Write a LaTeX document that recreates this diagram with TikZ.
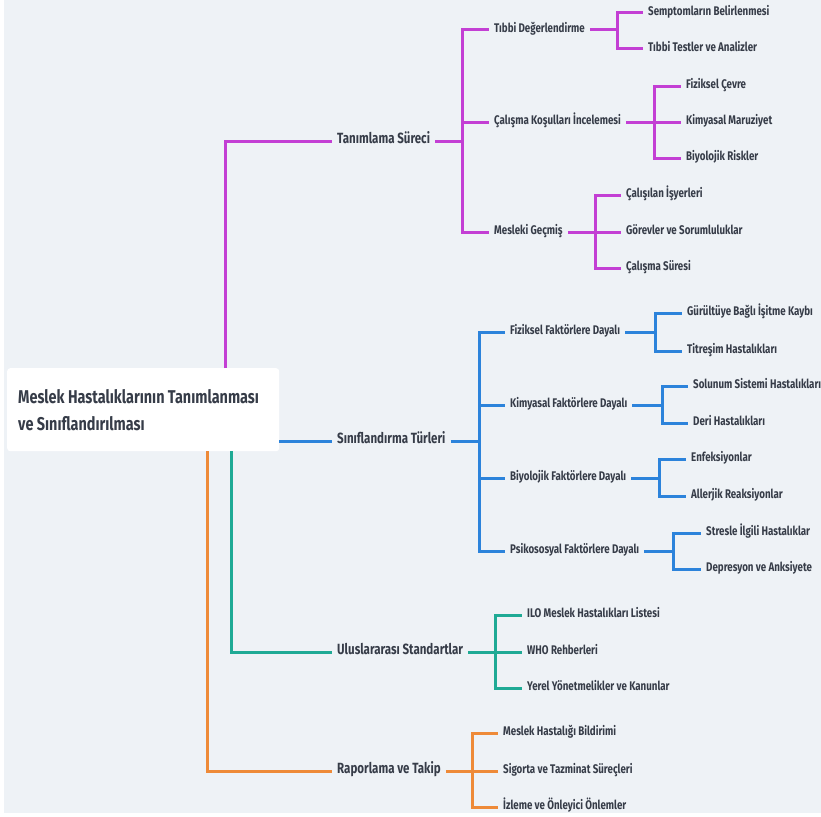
\documentclass[tikz,border=0pt]{standalone}
\usepackage{fontspec}
\setmainfont{Fira Sans}[FakeStretch=0.78]
\definecolor{bgc}{HTML}{EEF2F6}
\definecolor{ink}{HTML}{363C48}
\definecolor{magc}{HTML}{C33FD4}
\definecolor{bluc}{HTML}{2C83DB}
\definecolor{tealc}{HTML}{1FAA95}
\definecolor{orac}{HTML}{EE8A38}
\newcommand\hookup[3]{\draw[#1] (#2) |- ([xshift=-5pt]#3.west);}
\begin{document}
\begin{tikzpicture}[x=1pt,y=-1pt,
  lbl/.style={anchor=west, inner sep=0pt, text=ink,
    font=\bfseries\fontsize{12.5}{14}\selectfont, text height=0.75em, text depth=0.2em},
  lvlone/.style={lbl, font=\bfseries\fontsize{14.8}{17}\selectfont},
  rootbox/.style={anchor=north west, fill=white, rounded corners=3pt,
    inner sep=0pt, minimum width=272pt, minimum height=83pt},
  roottext/.style={anchor=west, inner sep=0pt, text=ink, align=left,
    font=\bfseries\fontsize{18.5}{27}\selectfont},
  conn/.style={line width=3pt},
  mag/.style={conn, draw=magc},
  blu/.style={conn, draw=bluc},
  tea/.style={conn, draw=tealc},
  ora/.style={conn, draw=orac}]
\useasboundingbox (0,0) rectangle (821,816);
\fill[white] (0,0) rectangle (821,816);
\fill[bgc] (4,0) rectangle (821,813);

% central topic
\node[rootbox] (root) at (7,368) {};
\node[roottext] (roottxt) at ([xshift=11pt]root.west) {Meslek Hastalıklarının Tanımlanması\\ve Sınıflandırılması};

% main branches
\node[lvlone] (tan) at (337,141) {Tanımlama Süreci};
\node[lvlone] (sin) at (337,441) {Sınıflandırma Türleri};
\node[lvlone] (ulu) at (337,652) {Uluslararası Standartlar};
\node[lvlone] (rap) at (337,771) {Raporlama ve Takip};

\draw[mag] ([xshift=218pt]root.north west) |- ([xshift=-5pt]tan.west);
\draw[blu] (root.east |- sin.west) -- ([xshift=-5pt]sin.west);
\draw[tea] ([xshift=224pt]root.south west) |- ([xshift=-5pt]ulu.west);
\draw[ora] ([xshift=200pt]root.south west) |- ([xshift=-5pt]rap.west);

% Tanımlama Süreci
\node[lbl] (tb) at (494,30) {Tıbbi Değerlendirme};
\node[lbl] (ck) at (494,122) {Çalışma Koşulları İncelemesi};
\node[lbl] (mg) at (494,232) {Mesleki Geçmiş};
\coordinate (tanS) at (462,141);
\draw[mag] ([xshift=5pt]tan.east) -- (tanS);
\hookup{mag}{tanS}{tb}
\hookup{mag}{tanS}{ck}
\hookup{mag}{tanS}{mg}

\node[lbl] (s1) at (648,13) {Semptomların Belirlenmesi};
\node[lbl] (s2) at (648,49) {Tıbbi Testler ve Analizler};
\coordinate (tbS) at (617,30);
\draw[mag] ([xshift=5pt]tb.east) -- (tbS);
\hookup{mag}{tbS}{s1}
\hookup{mag}{tbS}{s2}

\node[lbl] (fc) at (686,86) {Fiziksel Çevre};
\node[lbl] (km) at (686,122) {Kimyasal Maruziyet};
\node[lbl] (br) at (686,158) {Biyolojik Riskler};
\coordinate (ckS) at (654,122);
\draw[mag] ([xshift=5pt]ck.east) -- (ckS);
\hookup{mag}{ckS}{fc}
\hookup{mag}{ckS}{km}
\hookup{mag}{ckS}{br}

\node[lbl] (ci) at (626,195) {Çalışılan İşyerleri};
\node[lbl] (gs) at (626,232) {Görevler ve Sorumluluklar};
\node[lbl] (cs) at (626,268) {Çalışma Süresi};
\coordinate (mgS) at (595,232);
\draw[mag] ([xshift=5pt]mg.east) -- (mgS);
\hookup{mag}{mgS}{ci}
\hookup{mag}{mgS}{gs}
\hookup{mag}{mgS}{cs}

% Sınıflandırma Türleri
\node[lbl] (ff) at (510,332) {Fiziksel Faktörlere Dayalı};
\node[lbl] (kf) at (510,405) {Kimyasal Faktörlere Dayalı};
\node[lbl] (bf) at (510,478) {Biyolojik Faktörlere Dayalı};
\node[lbl] (pf) at (510,551) {Psikososyal Faktörlere Dayalı};
\coordinate (sinS) at (479,441);
\draw[blu] ([xshift=5pt]sin.east) -- (sinS);
\hookup{blu}{sinS}{ff}
\hookup{blu}{sinS}{kf}
\hookup{blu}{sinS}{bf}
\hookup{blu}{sinS}{pf}

\node[lbl] (g1) at (687,313) {Gürültüye Bağlı İşitme Kaybı};
\node[lbl] (g2) at (687,351) {Titreşim Hastalıkları};
\coordinate (ffS) at (655,332);
\draw[blu] ([xshift=5pt]ff.east) -- (ffS);
\hookup{blu}{ffS}{g1}
\hookup{blu}{ffS}{g2}

\node[lbl] (k1) at (693,386) {Solunum Sistemi Hastalıkları};
\node[lbl] (k2) at (693,423) {Deri Hastalıkları};
\coordinate (kfS) at (662,405);
\draw[blu] ([xshift=5pt]kf.east) -- (kfS);
\hookup{blu}{kfS}{k1}
\hookup{blu}{kfS}{k2}

\node[lbl] (e1) at (691,459) {Enfeksiyonlar};
\node[lbl] (e2) at (691,496) {Allerjik Reaksiyonlar};
\coordinate (bfS) at (659,478);
\draw[blu] ([xshift=5pt]bf.east) -- (bfS);
\hookup{blu}{bfS}{e1}
\hookup{blu}{bfS}{e2}

\node[lbl] (p1) at (706,533) {Stresle İlgili Hastalıklar};
\node[lbl] (p2) at (706,569) {Depresyon ve Anksiyete};
\coordinate (pfS) at (673,551);
\draw[blu] ([xshift=5pt]pf.east) -- (pfS);
\hookup{blu}{pfS}{p1}
\hookup{blu}{pfS}{p2}

% Uluslararası Standartlar
\node[lbl] (i1) at (527,615) {ILO Meslek Hastalıkları Listesi};
\node[lbl] (i2) at (527,652) {WHO Rehberleri};
\node[lbl] (i3) at (527,688) {Yerel Yönetmelikler ve Kanunlar};
\coordinate (uluS) at (495,652);
\draw[tea] ([xshift=5pt]ulu.east) -- (uluS);
\hookup{tea}{uluS}{i1}
\hookup{tea}{uluS}{i2}
\hookup{tea}{uluS}{i3}

% Raporlama ve Takip
\node[lbl] (o1) at (503,733) {Meslek Hastalığı Bildirimi};
\node[lbl] (o2) at (503,771) {Sigorta ve Tazminat Süreçleri};
\node[lbl] (o3) at (503,807) {İzleme ve Önleyici Önlemler};
\coordinate (rapS) at (472,771);
\draw[ora] ([xshift=5pt]rap.east) -- (rapS);
\hookup{ora}{rapS}{o1}
\hookup{ora}{rapS}{o2}
\hookup{ora}{rapS}{o3}
\end{tikzpicture}
\end{document}
